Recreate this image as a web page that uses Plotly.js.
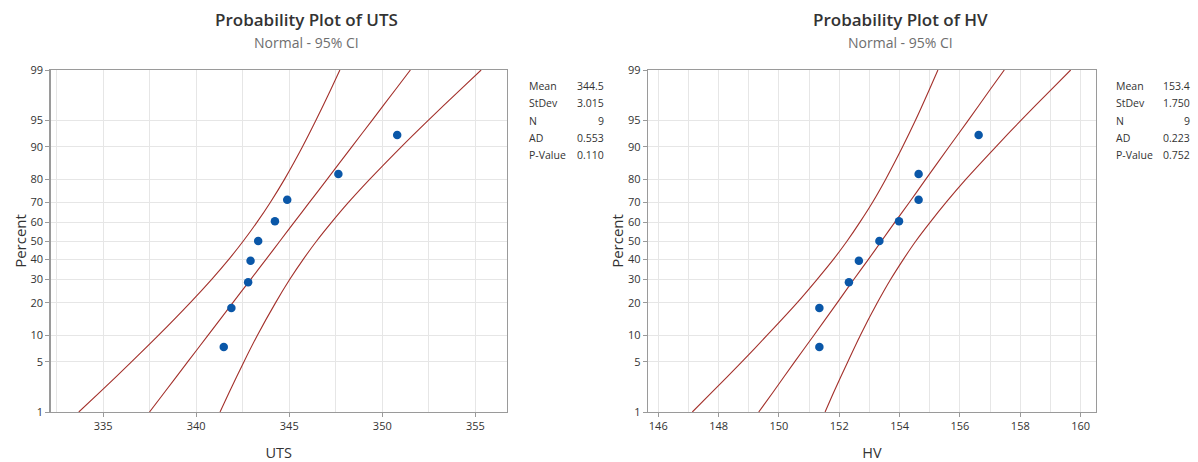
<!DOCTYPE html>
<html>
<head>
<meta charset="utf-8">
<script src="https://cdn.plot.ly/plotly-3.0.1.min.js"></script>
<style>html,body{margin:0;padding:0;background:#fff;}#chart{width:1198px;height:462px;}</style>
</head>
<body>
<div id="chart"></div>
<script>
// ---------- data ----------
// plotting positions (median ranks, %) of the 9 observations
const pointPercents = [7.45, 18.09, 28.72, 39.36, 50, 60.64, 71.28, 81.91, 92.55];
const utsValues = [341.48, 341.89, 342.79, 342.92, 343.33, 344.23, 344.89, 347.64, 350.80];
const hvValues  = [151.34, 151.34, 152.32, 152.65, 153.33, 153.98, 154.63, 154.63, 156.62];

// percent levels at which the fitted line and 95% CI curves were read
const bandPercents = [1, 2, 5, 10, 20, 30, 40, 50, 60, 70, 80, 90, 95, 98, 99];
const utsFit   = [337.49, 338.31, 339.54, 340.64, 341.96, 342.92, 343.74, 344.50, 345.26, 346.08, 347.04, 348.36, 349.46, 350.69, 351.51];
const utsLower = [333.69, 334.84, 336.52, 337.98, 339.67, 340.82, 341.74, 342.53, 343.26, 343.98, 344.75, 345.71, 346.44, 347.22, 347.72];
const utsUpper = [341.28, 341.78, 342.56, 343.29, 344.26, 345.02, 345.74, 346.47, 347.27, 348.18, 349.33, 351.02, 352.48, 354.17, 355.31];
const hvFit    = [149.33, 149.81, 150.52, 151.16, 151.93, 152.48, 152.96, 153.40, 153.84, 154.32, 154.87, 155.64, 156.28, 156.99, 157.47];
const hvLower  = [147.13, 147.79, 148.77, 149.61, 150.60, 151.26, 151.80, 152.26, 152.68, 153.10, 153.54, 154.10, 154.53, 154.98, 155.27];
const hvUpper  = [151.53, 151.82, 152.28, 152.70, 153.26, 153.70, 154.12, 154.54, 155.01, 155.54, 156.20, 157.19, 158.03, 159.01, 159.67];

const percentTicks = [1, 5, 10, 20, 30, 40, 50, 60, 70, 80, 90, 95, 99];

const statLabels = ["Mean", "StDev", "N", "AD", "P-Value"];
const utsStats = ["344.5", "3.015", "9", "0.553", "0.110"];
const hvStats  = ["153.4", "1.750", "9", "0.223", "0.752"];

// ---------- normal-probability scale (inverse normal CDF) ----------
function probit(pct) {
  const p = pct / 100;
  const a = [-3.969683028665376e+01, 2.209460984245205e+02, -2.759285104469687e+02, 1.383577518672690e+02, -3.066479806614716e+01, 2.506628277459239e+00];
  const b = [-5.447609879822406e+01, 1.615858368580409e+02, -1.556989798598866e+02, 6.680131188771972e+01, -1.328068155288572e+01];
  const c = [-7.784894002430293e-03, -3.223964580411365e-01, -2.400758277161838e+00, -2.549732539343734e+00, 4.374664141464968e+00, 2.938163982698783e+00];
  const d = [7.784695709041462e-03, 3.224671290700398e-01, 2.445134137142996e+00, 3.754408661907416e+00];
  const pl = 0.02425, ph = 1 - pl;
  let q, r;
  if (p < pl) {
    q = Math.sqrt(-2 * Math.log(p));
    return (((((c[0]*q+c[1])*q+c[2])*q+c[3])*q+c[4])*q+c[5]) / ((((d[0]*q+d[1])*q+d[2])*q+d[3])*q+1);
  } else if (p <= ph) {
    q = p - 0.5; r = q * q;
    return (((((a[0]*r+a[1])*r+a[2])*r+a[3])*r+a[4])*r+a[5])*q / (((((b[0]*r+b[1])*r+b[2])*r+b[3])*r+b[4])*r+1);
  } else {
    q = Math.sqrt(-2 * Math.log(1 - p));
    return -(((((c[0]*q+c[1])*q+c[2])*q+c[3])*q+c[4])*q+c[5]) / ((((d[0]*q+d[1])*q+d[2])*q+d[3])*q+1);
  }
}
const zPts = pointPercents.map(probit);
const zBand = bandPercents.map(probit);
const zTicks = percentTicks.map(probit);
const zRange = [probit(1), probit(99)];

// ---------- styling ----------
const W = 1198, H = 462;
const FONT = '"Open Sans", "Noto Sans", sans-serif';
const curveColor = '#a3302b';
const pointColor = '#0a57a8';
const gridColor = '#e6e6e6';
const frameColor = '#9a9a9a';
const textColor = '#333333';

function curve(x, y, xa, ya) {
  return {x: x, y: y, xaxis: xa, yaxis: ya, type: 'scatter', mode: 'lines',
          line: {color: curveColor, width: 1.1, shape: 'spline', smoothing: 0.6},
          hoverinfo: 'skip', cliponaxis: true};
}
function pts(x, y, xa, ya) {
  return {x: x, y: y, xaxis: xa, yaxis: ya, type: 'scatter', mode: 'markers',
          marker: {color: pointColor, size: 8.5, symbol: 'circle'}};
}

const traces = [
  curve(utsLower, zBand, 'x', 'y'),
  curve(utsFit, zBand, 'x', 'y'),
  curve(utsUpper, zBand, 'x', 'y'),
  pts(utsValues, zPts, 'x', 'y'),
  curve(hvLower, zBand, 'x2', 'y2'),
  curve(hvFit, zBand, 'x2', 'y2'),
  curve(hvUpper, zBand, 'x2', 'y2'),
  pts(hvValues, zPts, 'x2', 'y2')
];

const px = v => v / W;
const py = v => 1 - v / H;

const plotTop = 70, plotBottom = 412;
const left1 = 50.5, right1 = 507;
const left2 = 648, right2 = 1096;

function xAxis(domain, range, dtick, minorDtick, title) {
  return {
    domain: domain, range: range, dtick: dtick, tick0: 0,
    showgrid: true, gridcolor: gridColor, gridwidth: 1,
    minor: {dtick: minorDtick, tick0: 0, showgrid: true, gridcolor: gridColor, gridwidth: 1, ticks: ''},
    zeroline: false, showline: true, mirror: true, linecolor: frameColor, linewidth: 1.2,
    ticks: 'outside', ticklen: 4, tickcolor: frameColor, tickwidth: 1,
    tickfont: {family: FONT, size: 11, color: textColor},
    title: {text: title, font: {family: FONT, size: 14.5, color: textColor}, standoff: 15},
    automargin: false, fixedrange: true
  };
}
function yAxis(anchor) {
  return {
    domain: [py(plotBottom), py(plotTop)], range: zRange, anchor: anchor,
    tickmode: 'array', tickvals: zTicks, ticktext: percentTicks.map(String),
    showgrid: true, gridcolor: gridColor, gridwidth: 1,
    zeroline: false, showline: true, mirror: true, linecolor: frameColor, linewidth: 1.2,
    ticks: 'outside', ticklen: 4, tickcolor: frameColor, tickwidth: 1,
    tickfont: {family: FONT, size: 11, color: textColor},
    title: {text: 'Percent', font: {family: FONT, size: 15, color: textColor}, standoff: 0},
    automargin: false, fixedrange: true
  };
}

const annotations = [];
function titles(cx, main, sub) {
  annotations.push({xref: 'paper', yref: 'paper', x: px(cx), y: py(20), xanchor: 'center', yanchor: 'middle',
    text: main, showarrow: false, font: {family: FONT, size: 17, color: '#333333', weight: 600}});
  annotations.push({xref: 'paper', yref: 'paper', x: px(cx), y: py(42.5), xanchor: 'center', yanchor: 'middle',
    text: sub, showarrow: false, font: {family: FONT, size: 14, color: '#6e6e6e'}});
}
titles(306, 'Probability Plot of UTS', 'Normal - 95% CI');
titles(900, 'Probability Plot of HV', 'Normal - 95% CI');

function stats(xLabel, xValue, values) {
  const rows = [86, 103, 120.5, 138, 155];
  statLabels.forEach((lab, i) => {
    annotations.push({xref: 'paper', yref: 'paper', x: px(xLabel), y: py(rows[i]), xanchor: 'left', yanchor: 'middle',
      text: lab, showarrow: false, font: {family: FONT, size: 10.5, color: textColor}});
    annotations.push({xref: 'paper', yref: 'paper', x: px(xValue), y: py(rows[i]), xanchor: 'right', yanchor: 'middle',
      text: values[i], showarrow: false, font: {family: FONT, size: 10.5, color: textColor}});
  });
}
stats(527, 606, utsStats);
stats(1114, 1192, hvStats);

const layout = {
  width: W, height: H,
  margin: {l: 0, r: 0, t: 0, b: 0},
  paper_bgcolor: '#ffffff', plot_bgcolor: '#ffffff',
  showlegend: false,
  font: {family: FONT, color: textColor},
  xaxis: xAxis([px(left1), px(right1)], [332.17, 356.7], 5, 2.5, 'UTS'),
  yaxis: yAxis('x'),
  xaxis2: Object.assign(xAxis([px(left2), px(right2)], [145.66, 160.51], 2, 1, 'HV'), {anchor: 'y2'}),
  yaxis2: yAxis('x2'),
  annotations: annotations
};

Plotly.newPlot('chart', traces, layout, {displayModeBar: false, staticPlot: true});
</script>
</body>
</html>
